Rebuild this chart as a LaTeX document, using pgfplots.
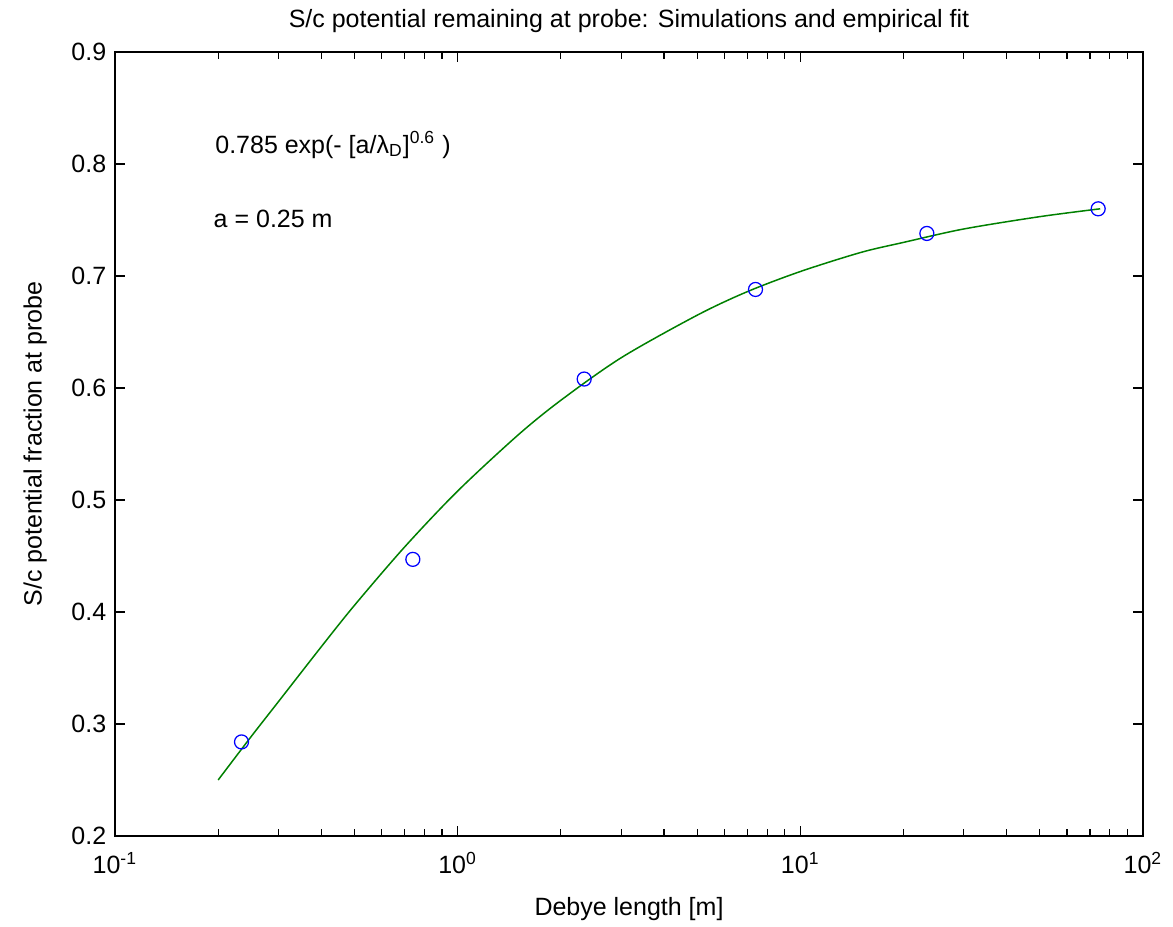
\documentclass[border=0pt]{standalone}
\usepackage{fontspec}
\setmainfont{Liberation Sans}
\usepackage{pgfplots}
\pgfplotsset{compat=1.18}
\definecolor{mgreen}{rgb}{0,0.5,0}

\begin{document}
\begin{tikzpicture}
\useasboundingbox (-46pt,-36pt) rectangle (423.2pt,334.4pt);
\begin{axis}[
  name=ax,
  at={(0,0)}, anchor=south west,
  scale only axis,
  width=411.2pt, height=313.6pt,
  xmode=log,
  xmin=0.1, xmax=100,
  ymin=0.2, ymax=0.9,
  ytick={0.2,0.3,...,0.9},
  yticklabel style={/pgf/number format/fixed,/pgf/number format/precision=1},
  xtick={0.1,1,10,100},
  xticklabels={10\textsuperscript{-1},10\textsuperscript{0},10\textsuperscript{1},10\textsuperscript{2}},
  xticklabel style={yshift=-3pt},
  /pgf/number format/assume math mode=true,
  tick align=inside,
  major tick length=4pt,
  minor tick length=2.8pt,
  axis line style={line width=0.6pt},
  every tick/.style={line width=0.5pt,black},
  title={S/c potential remaining at probe: Simulations and empirical fit},
  title style={yshift=-2pt},
  xlabel={Debye length [m]},
  ylabel={S/c potential fraction at probe},
  xlabel style={yshift=-2.5pt},
  ylabel style={yshift=3pt},
  clip=false,
]
\addplot[mgreen, line width=0.6pt, smooth] coordinates {
  (0.2,0.250) (0.25,0.289) (0.3,0.320) (0.4,0.369) (0.5,0.406)
  (0.7,0.458) (1,0.508) (1.5,0.558) (2,0.589) (3,0.627)
  (5,0.665) (7,0.686) (10,0.704) (15,0.721) (20,0.730)
  (30,0.742) (50,0.753) (75,0.760)
};
% simulations
\addplot[only marks, mark=o, blue, mark size=2.8pt, mark options={line width=0.5pt}] coordinates {
  (0.234,0.284) (0.74,0.447) (2.34,0.608) (7.4,0.688) (23.4,0.738) (74,0.760)
};
\node[anchor=west] at (axis cs:0.185,0.817) {0.785 exp(- [a/λ\textsubscript{D}]\textsuperscript{0.6} )};
\node[anchor=west] at (axis cs:0.183,0.751) {a = 0.25 m};
\end{axis}
\end{tikzpicture}
\end{document}
